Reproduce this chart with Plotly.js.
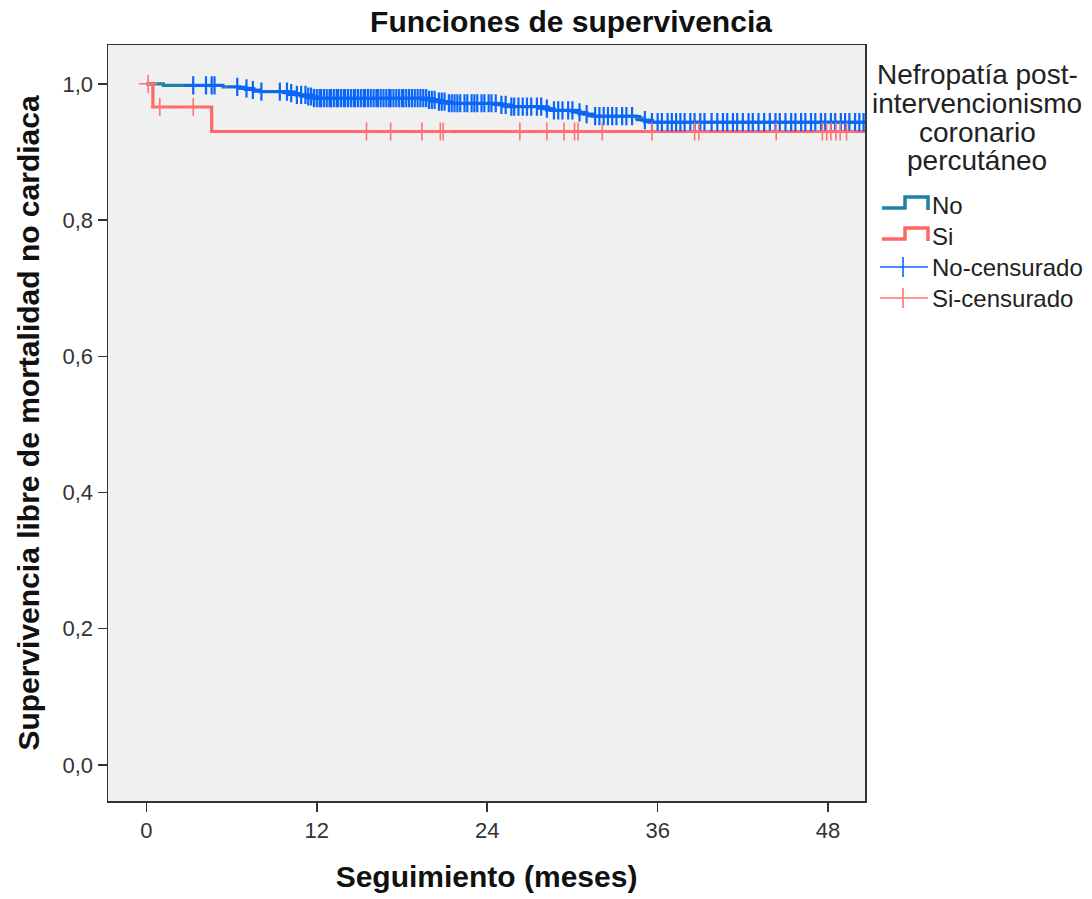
<!DOCTYPE html>
<html>
<head>
<meta charset="utf-8">
<script src="https://cdn.plot.ly/plotly-3.0.1.min.js"></script>
<style>
  html, body { margin: 0; padding: 0; background: #ffffff; }
  #chart { width: 1092px; height: 899px; }
</style>
</head>
<body>
<div id="chart"></div>
<script>
// Kaplan-Meier: supervivencia libre de mortalidad no cardiaca (meses)

// Grupo "No": tiempos de evento y supervivencia acumulada tras cada evento
const noEventTimes = [0, 1.2, 5.4, 6.6, 7.5, 8.0, 10.0, 10.5, 11.3, 11.8, 19.8, 20.5, 21.2,
  24.9, 25.5, 27.9, 28.5, 30.3, 30.8, 31.4, 34.5, 34.9, 35.4];
const noSurvival = [1.0, 0.9978, 0.9955, 0.9932, 0.9909, 0.9886, 0.9862, 0.9838, 0.9814, 0.9790,
  0.9765, 0.9740, 0.9715, 0.9690, 0.9664, 0.9637, 0.9610, 0.9582, 0.9554, 0.9526, 0.9497,
  0.9467, 0.9437];

// Grupo "No": tiempos censurados
const noCensored = [3.3, 4.2, 4.6, 4.8, 6.4, 7.05, 7.5, 8.1, 9.4, 9.9, 10.2, 10.6, 10.9,
  11.2, 11.4, 11.6, 11.8, 12.0, 12.2, 12.3, 12.5, 12.7, 12.9, 13.0, 13.2, 13.4, 13.5, 13.7,
  13.9, 14.0, 14.2, 14.4, 14.6, 14.7, 14.9, 15.1, 15.3, 15.4, 15.6, 15.8, 16.0, 16.2, 16.3,
  16.5, 16.7, 16.9, 17.1, 17.2, 17.4, 17.6, 17.8, 18.0, 18.1, 18.3, 18.5, 18.7, 18.9, 19.1,
  19.3, 19.5, 19.7, 19.9, 20.1, 20.3, 20.6, 20.8, 21.0, 21.3, 21.5, 21.7, 21.9, 22.1, 22.4,
  22.6, 22.9, 23.1, 23.3, 23.6, 23.8, 24.1, 24.3, 24.6, 25.0, 25.3, 25.7, 25.9, 26.2, 26.5,
  26.8, 27.1, 27.5, 27.8, 28.2, 28.7, 29.0, 29.3, 29.7, 30.0, 30.5, 31.0, 31.6, 31.9, 32.2,
  32.5, 32.8, 33.1, 33.5, 33.8, 34.2, 35.1, 35.6, 36.0, 36.3, 36.7, 37.0, 37.3, 37.6, 37.9,
  38.3, 38.6, 39.0, 39.3, 39.8, 40.2, 40.6, 40.9, 41.3, 41.6, 42.0, 42.4, 42.7, 43.1, 43.5,
  43.9, 44.3, 44.6, 45.0, 45.4, 45.7, 46.1, 46.4, 46.8, 47.1, 47.5, 47.8, 48.2, 48.5, 48.9,
  49.2, 49.5, 49.9, 50.2, 50.5];

// Grupo "Si"
const siEventTimes = [0, 0.46, 4.6];
const siSurvival = [1.0, 0.966, 0.930];
const siCensored = [0.13, 0.95, 3.3, 15.5, 17.2, 19.4, 20.7, 20.9, 26.3, 28.2, 29.4, 30.15,
  30.4, 32.1, 35.6, 38.6, 38.9, 44.35, 47.6, 47.9, 48.2, 48.55, 48.85, 49.3];

// Seguimiento máximo de la cohorte
const maxFollowUp = 50.7;

const xTicks = [0, 12, 24, 36, 48];
const yTicks = [0, 0.2, 0.4, 0.6, 0.8, 1.0];

const groupNames = ['No', 'Si'];
const legendTitle = ['Nefropatía post-', 'intervencionismo', 'coronario', 'percutáneo'];
const legendLabels = ['No', 'Si', 'No-censurado', 'Si-censurado'];

const colors = {
  noLine: '#1F82A2',
  siLine: '#FF6666',
  noMark: '#0A66FA',
  siMark: '#FF7575'
};

const FONT = 'Liberation Sans, Arial, sans-serif';

// Valor de la curva escalonada en el tiempo t
function survivalAt(times, surv, t) {
  let s = surv[0];
  for (let i = 0; i < times.length; i++) {
    if (times[i] <= t) s = surv[i];
  }
  return s;
}

function stepTrace(times, surv, name, color) {
  return {
    type: 'scatter', mode: 'lines', name: name,
    x: times.concat([maxFollowUp]),
    y: surv.concat([surv[surv.length - 1]]),
    line: { shape: 'hv', color: color, width: 3.2 },
    hoverinfo: 'x+y+name', showlegend: false
  };
}

function censorTrace(times, evTimes, surv, name, color, w) {
  return {
    type: 'scatter', mode: 'markers', name: name,
    x: times,
    y: times.map(t => survivalAt(evTimes, surv, t)),
    marker: { symbol: 'cross-thin-open', size: 13, color: color, line: { color: color, width: w } },
    hoverinfo: 'x+y+name', showlegend: false
  };
}

const traces = [
  stepTrace(noEventTimes, noSurvival, groupNames[0], colors.noLine),
  stepTrace(siEventTimes, siSurvival, groupNames[1], colors.siLine),
  censorTrace(noCensored, noEventTimes, noSurvival, legendLabels[2], colors.noMark, 2.2),
  censorTrace(siCensored, siEventTimes, siSurvival, legendLabels[3], colors.siMark, 1.6)
];

// Leyenda dibujada a mano (icono escalonado para las curvas, cruz para censurados)
// conversión píxel de página -> coordenadas paper del área de trazado
const L = 108, R = 865, T = 45, B = 801;
const toPX = (x) => (x - L) / (R - L);
const toPY = (y) => (B - y) / (B - T);

const annotations = [];
const shapes = [];

const titleLineY = [75, 104, 132, 160];
legendTitle.forEach((t, i) => {
  annotations.push({
    xref: 'paper', yref: 'paper', x: toPX(977), y: toPY(titleLineY[i]),
    xanchor: 'center', yanchor: 'middle',
    text: t, showarrow: false,
    font: { family: FONT, size: 28, color: '#222222' }
  });
});

const itemY = [205, 236, 267, 298];
legendLabels.forEach((t, i) => {
  annotations.push({
    xref: 'paper', yref: 'paper', x: toPX(930), y: toPY(itemY[i]),
    xanchor: 'left', yanchor: 'middle',
    text: t, showarrow: false,
    font: { family: FONT, size: 24, color: '#222222' }
  });
});

function stepIcon(yc, color) {
  const x0 = toPX(882), x1 = toPX(905), x2 = toPX(928);
  const yLow = toPY(yc + 3), yHigh = toPY(yc - 8), yEnd = toPY(yc + 5);
  return {
    type: 'path', xref: 'paper', yref: 'paper',
    path: `M ${x0} ${yLow} L ${x1} ${yLow} L ${x1} ${yHigh} L ${x2} ${yHigh} L ${x2} ${yEnd}`,
    line: { color: color, width: 3.5 }
  };
}
function crossIcon(yc, color) {
  return [
    { type: 'line', xref: 'paper', yref: 'paper', x0: toPX(880), x1: toPX(928),
      y0: toPY(yc), y1: toPY(yc), line: { color: color, width: 1.6 } },
    { type: 'line', xref: 'paper', yref: 'paper', x0: toPX(903), x1: toPX(903),
      y0: toPY(yc - 10), y1: toPY(yc + 10), line: { color: color, width: 1.6 } }
  ];
}
shapes.push(stepIcon(itemY[0], colors.noLine));
shapes.push(stepIcon(itemY[1], colors.siLine));
shapes.push(...crossIcon(itemY[2], colors.noMark));
shapes.push(...crossIcon(itemY[3], colors.siMark));

const layout = {
  width: 1092, height: 899,
  margin: { l: 108, r: 227, t: 45, b: 98, pad: 0 },
  paper_bgcolor: '#ffffff',
  plot_bgcolor: '#F0F0F0',
  separators: ',.',
  showlegend: false,
  title: {
    text: 'Funciones de supervivencia',
    x: 571 / 1092, xref: 'container', xanchor: 'center',
    y: 1 - 21 / 899, yref: 'container', yanchor: 'middle',
    font: { family: FONT, size: 30, weight: 'bold', color: '#111111' }
  },
  xaxis: {
    range: [-2.7, 50.6],
    tickvals: xTicks,
    ticks: 'outside', ticklen: 9, tickwidth: 1.5, tickcolor: '#333333',
    showgrid: false, zeroline: false,
    showline: true, linecolor: '#333333', linewidth: 1.5, mirror: true,
    tickfont: { family: FONT, size: 22, color: '#333333' },
    title: {
      text: 'Seguimiento (meses)', standoff: 24,
      font: { family: FONT, size: 30, weight: 'bold', color: '#111111' }
    }
  },
  yaxis: {
    range: [-0.053, 1.057],
    tickvals: yTicks, tickformat: '.1f',
    ticks: 'outside', ticklen: 9, tickwidth: 1.5, tickcolor: '#333333',
    showgrid: false, zeroline: false,
    showline: true, linecolor: '#333333', linewidth: 1.5, mirror: true,
    tickfont: { family: FONT, size: 22, color: '#333333' },
    title: {
      text: 'Supervivencia libre de mortalidad no cardiaca', standoff: 14,
      font: { family: FONT, size: 30, weight: 'bold', color: '#111111' }
    }
  },
  annotations: annotations,
  shapes: shapes
};

Plotly.newPlot('chart', traces, layout, { displayModeBar: false, staticPlot: true });
</script>
</body>
</html>
